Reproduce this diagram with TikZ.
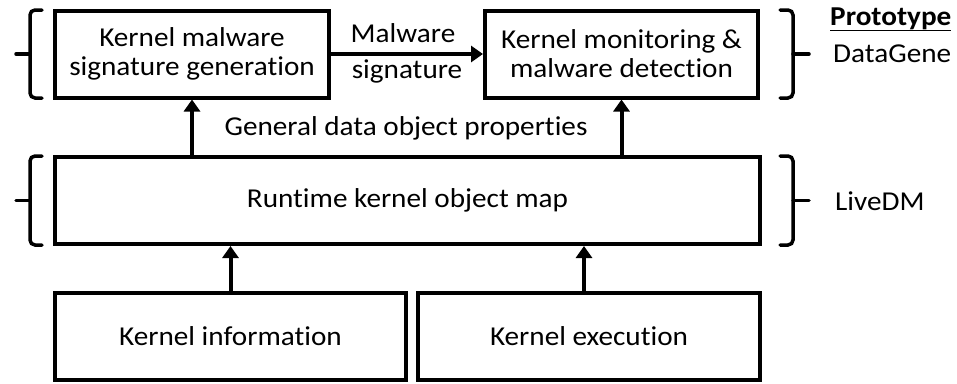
\documentclass[tikz,border=0pt]{standalone}
\usepackage{fontspec}
\setmainfont[Ligatures={NoCommon},FakeStretch=1.07]{Carlito}
\usetikzlibrary{arrows.meta,calc}

\begin{document}
\begin{tikzpicture}[x=1pt,y=-1pt,
  txt/.style={font=\fontsize{27.3}{29}\selectfont},
  box/.style={draw,line width=4pt,minimum height=87pt,inner sep=0pt,align=center,txt},
  arr/.style={line width=4pt,-{Triangle[width=16pt,length=12pt]}},
  brace/.style={line width=3.5pt,rounded corners=5pt,line cap=round},
  lbl/.style={txt,inner sep=0pt}
]
\useasboundingbox (0,0) rectangle (957,383);
\clip (0,0) rectangle (957,383);

% boxes
\node[box,minimum width=274pt] (gen)  at (192,54)    {Kernel malware\\signature generation};
\node[box,minimum width=273pt] (det)  at (621.5,54)  {Kernel monitoring \&\\malware detection};
\node[box,minimum width=705pt] (map)  at (407.5,200.5) {Runtime kernel object map};
\node[box,minimum width=351pt] (info) at (230.5,336.5) {Kernel information};
\node[box,minimum width=342pt] (exec) at (589,336.5)   {Kernel execution};

% connectors
\draw[arr] (gen.east) -- (det.west);
\draw[arr] (map.north -| gen.south) -- (gen.south);
\draw[arr] (map.north -| det.south) -- (det.south);
\draw[arr] (info.north) -- (info.north |- map.south);
\draw[arr] ($(exec.north)+(-5,0)$) -- ($(exec.north |- map.south)+(-5,0)$);

% connector labels
\node[lbl,anchor=base] (lmal) at (403,42) {Malware};
\node[lbl,anchor=base] (lsig) at (407,78) {signature};
\node[lbl,anchor=base] (lgen) at (406,135) {General data object properties};

% left braces
\draw[brace] (42,10) -- (30,10) -- (30,98) -- (42,98);
\draw[brace] (30,54) -- (16,54);
\draw[brace] (42,156) -- (30,156) -- (30,245) -- (42,245);
\draw[brace] (30,200.5) -- (16,200.5);

% right braces
\draw[brace] (780,10) -- (793,10) -- (793,98) -- (780,98);
\draw[brace] (793,54) -- (809,54);
\draw[brace] (780,156) -- (793,156) -- (793,245) -- (780,245);
\draw[brace] (793,200.5) -- (809,200.5);

% prototype names
\node[lbl,anchor=base west] (proto) at (830,25) {\underline{\textbf{Prototype}}};
\node[lbl,anchor=base west] (dg)    at (833,62) {DataGene};
\node[lbl,anchor=base west] (ldm)   at (835,210) {LiveDM};
\end{tikzpicture}
\end{document}
